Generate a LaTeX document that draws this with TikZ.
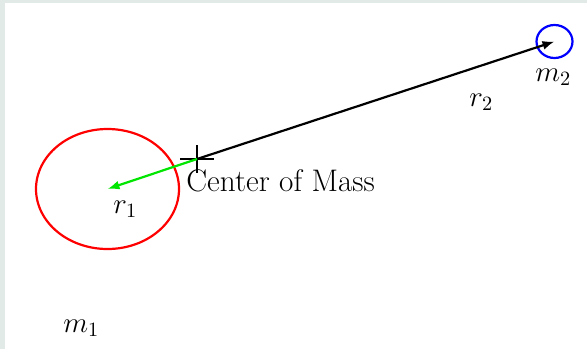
\RequirePackage{fix-cm}
\documentclass[tikz,border=0pt]{standalone}
\usetikzlibrary{shapes.geometric,arrows.meta}
\definecolor{framegray}{RGB}{226,234,231}
\definecolor{arrgreen}{RGB}{0,230,0}
\begin{document}
\begin{tikzpicture}[x=0.5pt,y=-0.5pt,
  lbl/.style={inner sep=0pt,anchor=base west,font=\fontsize{14.5}{17}\selectfont},
  vec/.style={line width=1.1pt,-{Latex[length=6pt,width=4.5pt]}},
  crossline/.style={line width=1.1pt,black}]
  \fill[framegray] (0,0) rectangle (587,349);
  \fill[white] (5,3) rectangle (587,349);
  \useasboundingbox (0,0) rectangle (587,349);
  % bodies
  \node[ellipse,draw=red,line width=1.1pt,minimum width=71.5pt,minimum height=60pt,inner sep=0pt] (m1c) at (107.5,189) {};
  \node[ellipse,draw=blue,line width=1.1pt,minimum width=18pt,minimum height=16.5pt,inner sep=0pt] (m2c) at (554.5,41.5) {};
  % center of mass
  \coordinate (com) at (197,159);
  \coordinate (chl) at (180,159);
  \coordinate (chr) at (214,159);
  \coordinate (cvt) at (197,145);
  \coordinate (cvb) at (197,173);
  \draw[crossline] (chl) -- (chr);
  \draw[crossline] (cvt) -- (cvb);
  % vectors
  \draw[vec,black] (com) -- (m2c.center);
  \draw[vec,arrgreen] (com) -- (m1c.center);
  % labels
  \node[lbl,font=\fontsize{15.6}{18}\selectfont] (com-l) at (186,191) {Center of Mass};
  \node[lbl] (r1) at (113,213) {$r_1$};
  \node[lbl] (r2) at (469,106) {$r_2$};
  \node[lbl] (m1) at (63,332) {$m_1$};
  \node[lbl] (m2) at (535,81) {$m_2$};
\end{tikzpicture}
\end{document}
